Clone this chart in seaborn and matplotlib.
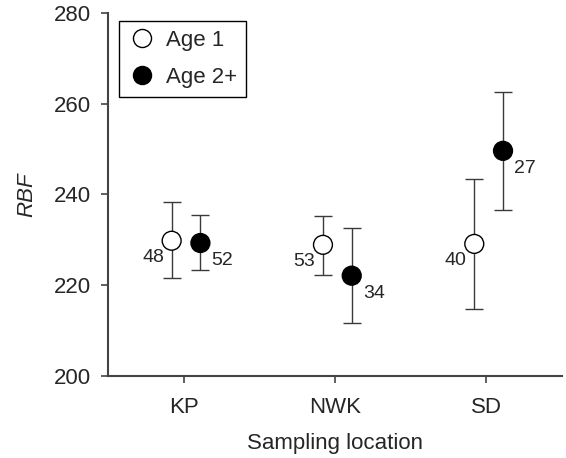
import numpy as np
import pandas as pd
import matplotlib
matplotlib.use("Agg")
import matplotlib.pyplot as plt
import seaborn as sns
from matplotlib.lines import Line2D

# data
locations = ["KP", "NWK", "SD"]
groups = ["Age 1", "Age 2+"]
age1_mean = [229.8, 228.9, 229.1]
age1_low = [221.5, 222.3, 214.8]
age1_high = [238.4, 235.2, 243.5]
age2_mean = [229.3, 222.1, 249.6]
age2_low = [223.3, 211.6, 236.5]
age2_high = [235.4, 232.6, 262.6]
age1_n = [48, 53, 40]
age2_n = [52, 34, 27]

sns.set_style("ticks")
plt.rcParams["font.family"] = ["Liberation Sans", "DejaVu Sans"]

rows = []
for i, loc in enumerate(locations):
    rows.append(dict(loc=loc, idx=i, group="Age 1", mean=age1_mean[i],
                     low=age1_low[i], high=age1_high[i], n=age1_n[i]))
    rows.append(dict(loc=loc, idx=i, group="Age 2+", mean=age2_mean[i],
                     low=age2_low[i], high=age2_high[i], n=age2_n[i]))
df = pd.DataFrame(rows)
offsets = {"Age 1": -0.08, "Age 2+": 0.11}
df["x"] = df["idx"] + df["group"].map(offsets)

fig = plt.figure(figsize=(5.66, 4.58), dpi=100)
ax = fig.add_axes([0.191, 0.179, 0.802, 0.793])

# error bars
for g in groups:
    d = df[df.group == g]
    ax.errorbar(d["x"], d["mean"],
                yerr=[d["mean"] - d["low"], d["high"] - d["mean"]],
                fmt="none", ecolor="#3a3a3a", elinewidth=1.0,
                capsize=6.5, capthick=1.0, zorder=1)

sns.scatterplot(data=df, x="x", y="mean", hue="group", hue_order=groups,
                palette={"Age 1": "white", "Age 2+": "black"},
                edgecolor="black", linewidth=1.0, s=185, ax=ax, zorder=3,
                legend=False)

# sample sizes
for _, r in df.iterrows():
    if r["group"] == "Age 1":
        ax.annotate(str(r["n"]), (r["x"], r["mean"]), xytext=(-5.5, -12),
                    textcoords="offset points", ha="right", va="center",
                    fontsize=14)
    else:
        ax.annotate(str(r["n"]), (r["x"], r["mean"]), xytext=(8, -12.5),
                    textcoords="offset points", ha="left", va="center",
                    fontsize=14)

ax.set_xlim(-0.5, 2.5)
ax.set_ylim(200, 280)
ax.set_xticks(range(len(locations)))
ax.set_xticklabels(locations)
ax.set_yticks([200, 220, 240, 260, 280])
ax.tick_params(axis="both", labelsize=16, length=5, width=1.2,
               color="#444444", direction="out")
ax.tick_params(axis="x", pad=10)
ax.tick_params(axis="y", pad=7)
ax.set_xlabel("Sampling location", fontsize=16, labelpad=11)
ax.set_ylabel("RBF", fontsize=16, style="italic", labelpad=12)
sns.despine(ax=ax)
for s in ["left", "bottom"]:
    ax.spines[s].set_color("#444444")
    ax.spines[s].set_linewidth(1.5)

# legend
handles = [Line2D([], [], ls="none", marker="o", markersize=13,
                  markerfacecolor="white", markeredgecolor="black",
                  markeredgewidth=1.0),
           Line2D([], [], ls="none", marker="o", markersize=13,
                  markerfacecolor="black", markeredgecolor="black")]
leg = ax.legend(handles, groups, loc="upper left", bbox_to_anchor=(0.015, 0.99),
                fontsize=16, frameon=True, fancybox=False, framealpha=1,
                edgecolor="black", handletextpad=0.5, borderpad=0.4,
                labelspacing=0.72, handlelength=1.2, borderaxespad=0.2)
leg.get_frame().set_linewidth(1.0)

fig.savefig("out.png", dpi=100)
